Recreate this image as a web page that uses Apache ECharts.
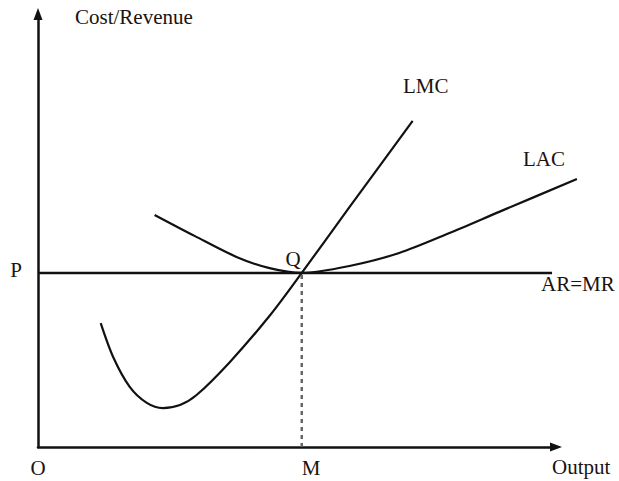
<!DOCTYPE html>
<html>
<head>
<meta charset="utf-8">
<script src="https://cdn.jsdelivr.net/npm/echarts@6/dist/echarts.min.js"></script>
<style>
html, body { margin: 0; padding: 0; background: #fff; }
#chart { width: 619px; height: 481px; }
</style>
</head>
<body>
<div id="chart"></div>
<script>
// LMC curve: output vs cost (axis units 0-100)
const lmcX = [12.1, 14.5, 17.7, 21.0, 24.1, 27.4, 30.6, 37.0, 44.7, 50.9, 60.1, 72.3]
const lmcY = [28.6, 20.8, 13.9, 10.2, 9.0, 9.7, 12.0, 19.6, 30.3, 40.2, 55.4, 75.3]

// LAC curve
const lacX = [22.5, 30.3, 38.3, 44.7, 50.9, 60.1, 69.7, 79.4, 89.0, 104.0]
const lacY = [53.6, 48.7, 43.9, 41.3, 40.2, 41.8, 44.8, 49.4, 54.3, 61.9]

// price line AR=MR and equilibrium output M
const priceP = 40.2
const arEndX = 99.2
const outputM = 50.9

const pair = (xs, ys) => xs.map((x, i) => [x, ys[i]])

const myChart = echarts.init(document.getElementById('chart'), null, { renderer: 'svg' })

const txtColor = '#1a1311'
const txtFont = '21px "Liberation Serif", "DejaVu Serif", serif'
const label = (text, x, y, align) => ({
  type: 'text',
  x: x,
  y: y,
  silent: true,
  style: {
    text: text,
    font: txtFont,
    fill: txtColor,
    align: align || 'left',
    verticalAlign: 'middle'
  }
})

// bare axis: no ticks, labels or grid lines
const bareAxis = (idx, max, showLine) => ({
  type: 'value',
  gridIndex: idx,
  min: 0,
  max: max,
  axisLine: {
    show: showLine,
    symbol: ['none', 'triangle'],
    symbolSize: [9, 12],
    lineStyle: { color: '#111', width: 2.5 }
  },
  axisTick: { show: false },
  axisLabel: { show: false },
  splitLine: { show: false }
})

const curveLine = { color: '#111', width: 2.2 }

myChart.setOption({
  animation: false,
  backgroundColor: '#fff',
  grid: [
    // plotting area, a bit wider so LAC can run past the arrow
    { left: 38, right: 40, top: 14, bottom: 34 },
    // the two arrowed axes
    { left: 38, right: 63, top: 14, bottom: 34 }
  ],
  xAxis: [bareAxis(0, 104.4, false), bareAxis(1, 100, true)],
  yAxis: [bareAxis(0, 100, false), bareAxis(1, 100, true)],
  series: [
    {
      name: 'LMC',
      type: 'line',
      data: pair(lmcX, lmcY),
      smooth: 0.3,
      showSymbol: false,
      lineStyle: curveLine
    },
    {
      name: 'LAC',
      type: 'line',
      data: pair(lacX, lacY),
      smooth: 0.3,
      showSymbol: false,
      lineStyle: curveLine
    },
    {
      name: 'AR=MR',
      type: 'line',
      data: [[0, priceP], [arEndX, priceP]],
      showSymbol: false,
      lineStyle: { color: '#111', width: 2.5 }
    },
    {
      name: 'M',
      type: 'line',
      data: [[outputM, 0], [outputM, priceP]],
      showSymbol: false,
      lineStyle: { color: '#666', width: 2.5, type: [4, 4] }
    }
  ],
  graphic: [
    label('Cost/Revenue', 75, 17),
    label('LMC', 403, 86),
    label('LAC', 523, 159),
    label('AR=MR', 541, 284),
    label('P', 16, 270, 'center'),
    label('Q', 293, 259, 'center'),
    label('O', 38, 468, 'center'),
    label('M', 311, 468, 'center'),
    label('Output', 552, 467)
  ]
})
</script>
</body>
</html>
